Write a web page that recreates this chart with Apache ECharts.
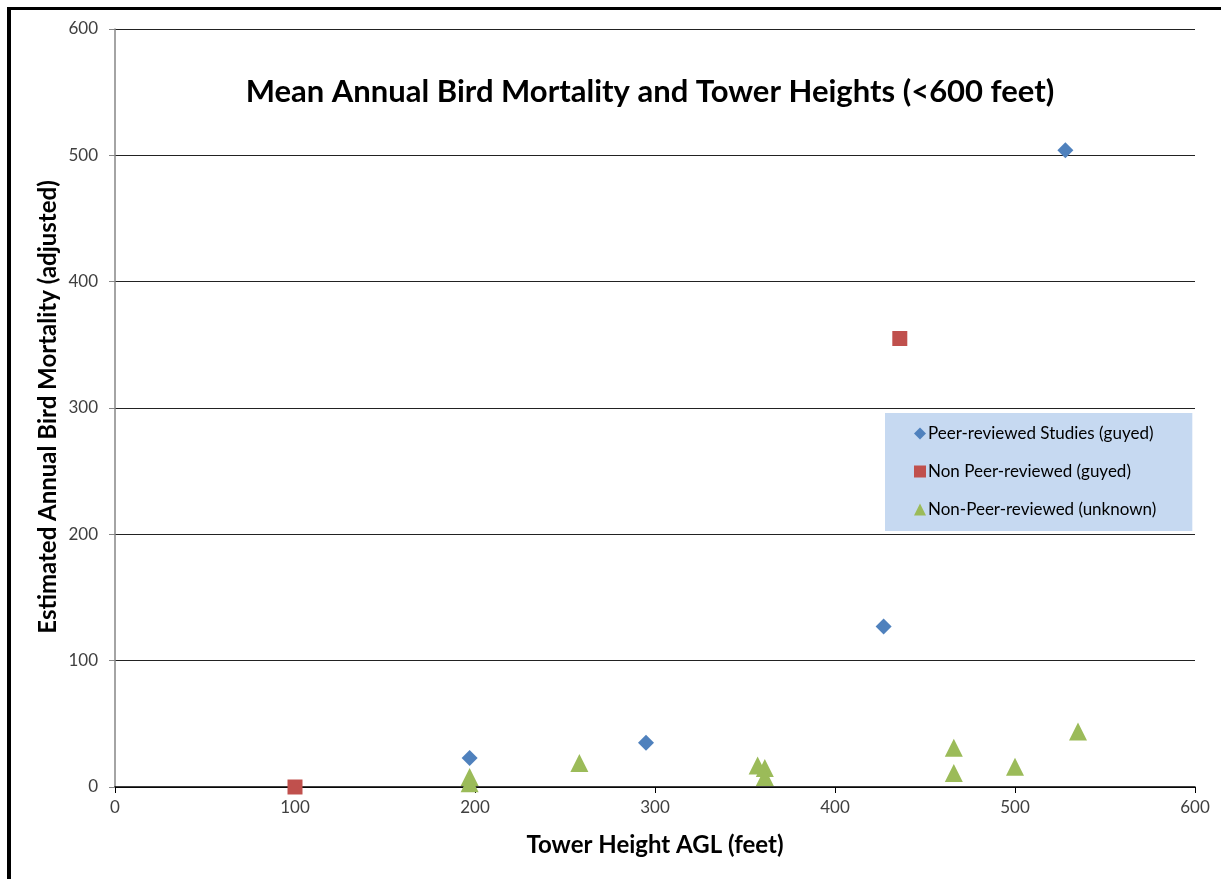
<!DOCTYPE html>
<html>
<head>
<meta charset="utf-8">
<script src="https://cdn.jsdelivr.net/npm/echarts@6/dist/echarts.min.js"></script>
<style>
  html, body { margin: 0; padding: 0; background: #fff; }
  #chart { width: 1221px; height: 879px; position: relative; }
  #frame { position: absolute; left: 7px; top: 7px; right: -10px; bottom: -10px;
           border-left: 4px solid #000; border-top: 3px solid #000; pointer-events: none; }
</style>
</head>
<body>
<div style="position:relative;width:1221px;height:879px;overflow:hidden">
  <div id="chart"></div>
  <div id="frame"></div>
</div>
<script>
// 数据：[塔高 (feet), 年均鸟类死亡数]
const peerGuyed = [[197, 23], [295, 35], [427, 127], [528, 504]];
const nonPeerGuyed = [[100, 0], [436, 355]];
const nonPeerUnknown = [
  [197, 8], [197, 3], [258, 19], [357, 17], [361, 15], [361, 8],
  [466, 31], [466, 11], [500, 16], [535, 44]
];
const seriesNames = ['Peer-reviewed Studies (guyed)', 'Non Peer-reviewed (guyed)', 'Non-Peer-reviewed (unknown)'];

const font = 'Lato, "Open Sans", sans-serif';
const labelColor = '#404040';

const chart = echarts.init(document.getElementById('chart'));

const option = {
  animation: false,
  textStyle: { fontFamily: font },
  grid: { left: 115, right: 26, top: 29, bottom: 92 },
  title: {
    text: 'Mean Annual Bird Mortality and Tower Heights (<600 feet)',
    left: 645, top: 71, textAlign: 'center',
    textStyle: { fontFamily: font, fontSize: 31, fontWeight: 'bold', color: '#000' }
  },
  legend: {
    orient: 'vertical',
    left: 885, top: 413,
    padding: [12, 36, 13, 29],
    itemGap: 21,
    itemWidth: 12, itemHeight: 12,
    backgroundColor: '#c6d9f1',
    textStyle: { fontFamily: font, fontSize: 17, color: '#000', padding: [0, 0, 0, -3] },
    data: [
      { name: seriesNames[0], icon: 'diamond' },
      { name: seriesNames[1], icon: 'rect' },
      { name: seriesNames[2], icon: 'triangle' }
    ]
  },
  graphic: [{
    type: 'text',
    x: 36, y: 407,
    rotation: Math.PI / 2,
    style: {
      text: 'Estimated Annual Bird Mortality (adjusted)',
      font: 'bold 24px ' + font,
      fill: '#000',
      align: 'center',
      verticalAlign: 'top'
    }
  }],
  xAxis: {
    type: 'value', min: 0, max: 600, interval: 100,
    name: 'Tower Height AGL (feet)',
    nameLocation: 'middle', nameGap: 46,
    nameTextStyle: { fontFamily: font, fontSize: 24, fontWeight: 'bold', color: '#000' },
    axisLine: { show: true, onZero: false, lineStyle: { color: '#000', width: 1.5 } },
    axisTick: { show: true, length: 6, lineStyle: { color: '#000' } },
    axisLabel: { color: labelColor, fontSize: 17, margin: 12 },
    splitLine: { show: false }
  },
  yAxis: {
    type: 'value', min: 0, max: 600, interval: 100,
    axisLine: { show: true, lineStyle: { color: '#868686', width: 1.5 } },
    axisTick: { show: true, length: 6, lineStyle: { color: '#868686' } },
    axisLabel: { color: labelColor, fontSize: 17, margin: 17 },
    splitLine: { show: true, lineStyle: { color: '#222', width: 1 } }
  },
  series: [
    {
      name: seriesNames[0], type: 'scatter', data: peerGuyed,
      symbol: 'diamond', symbolSize: 16,
      itemStyle: { color: '#4f81bd', opacity: 1 }
    },
    {
      name: seriesNames[1], type: 'scatter', data: nonPeerGuyed,
      symbol: 'rect', symbolSize: 15,
      itemStyle: { color: '#c0504d', opacity: 1 }
    },
    {
      name: seriesNames[2], type: 'scatter', data: nonPeerUnknown,
      symbol: 'triangle', symbolSize: 18,
      itemStyle: { color: '#9bbb59', opacity: 1 }
    }
  ]
};

chart.setOption(option);
</script>
</body>
</html>
